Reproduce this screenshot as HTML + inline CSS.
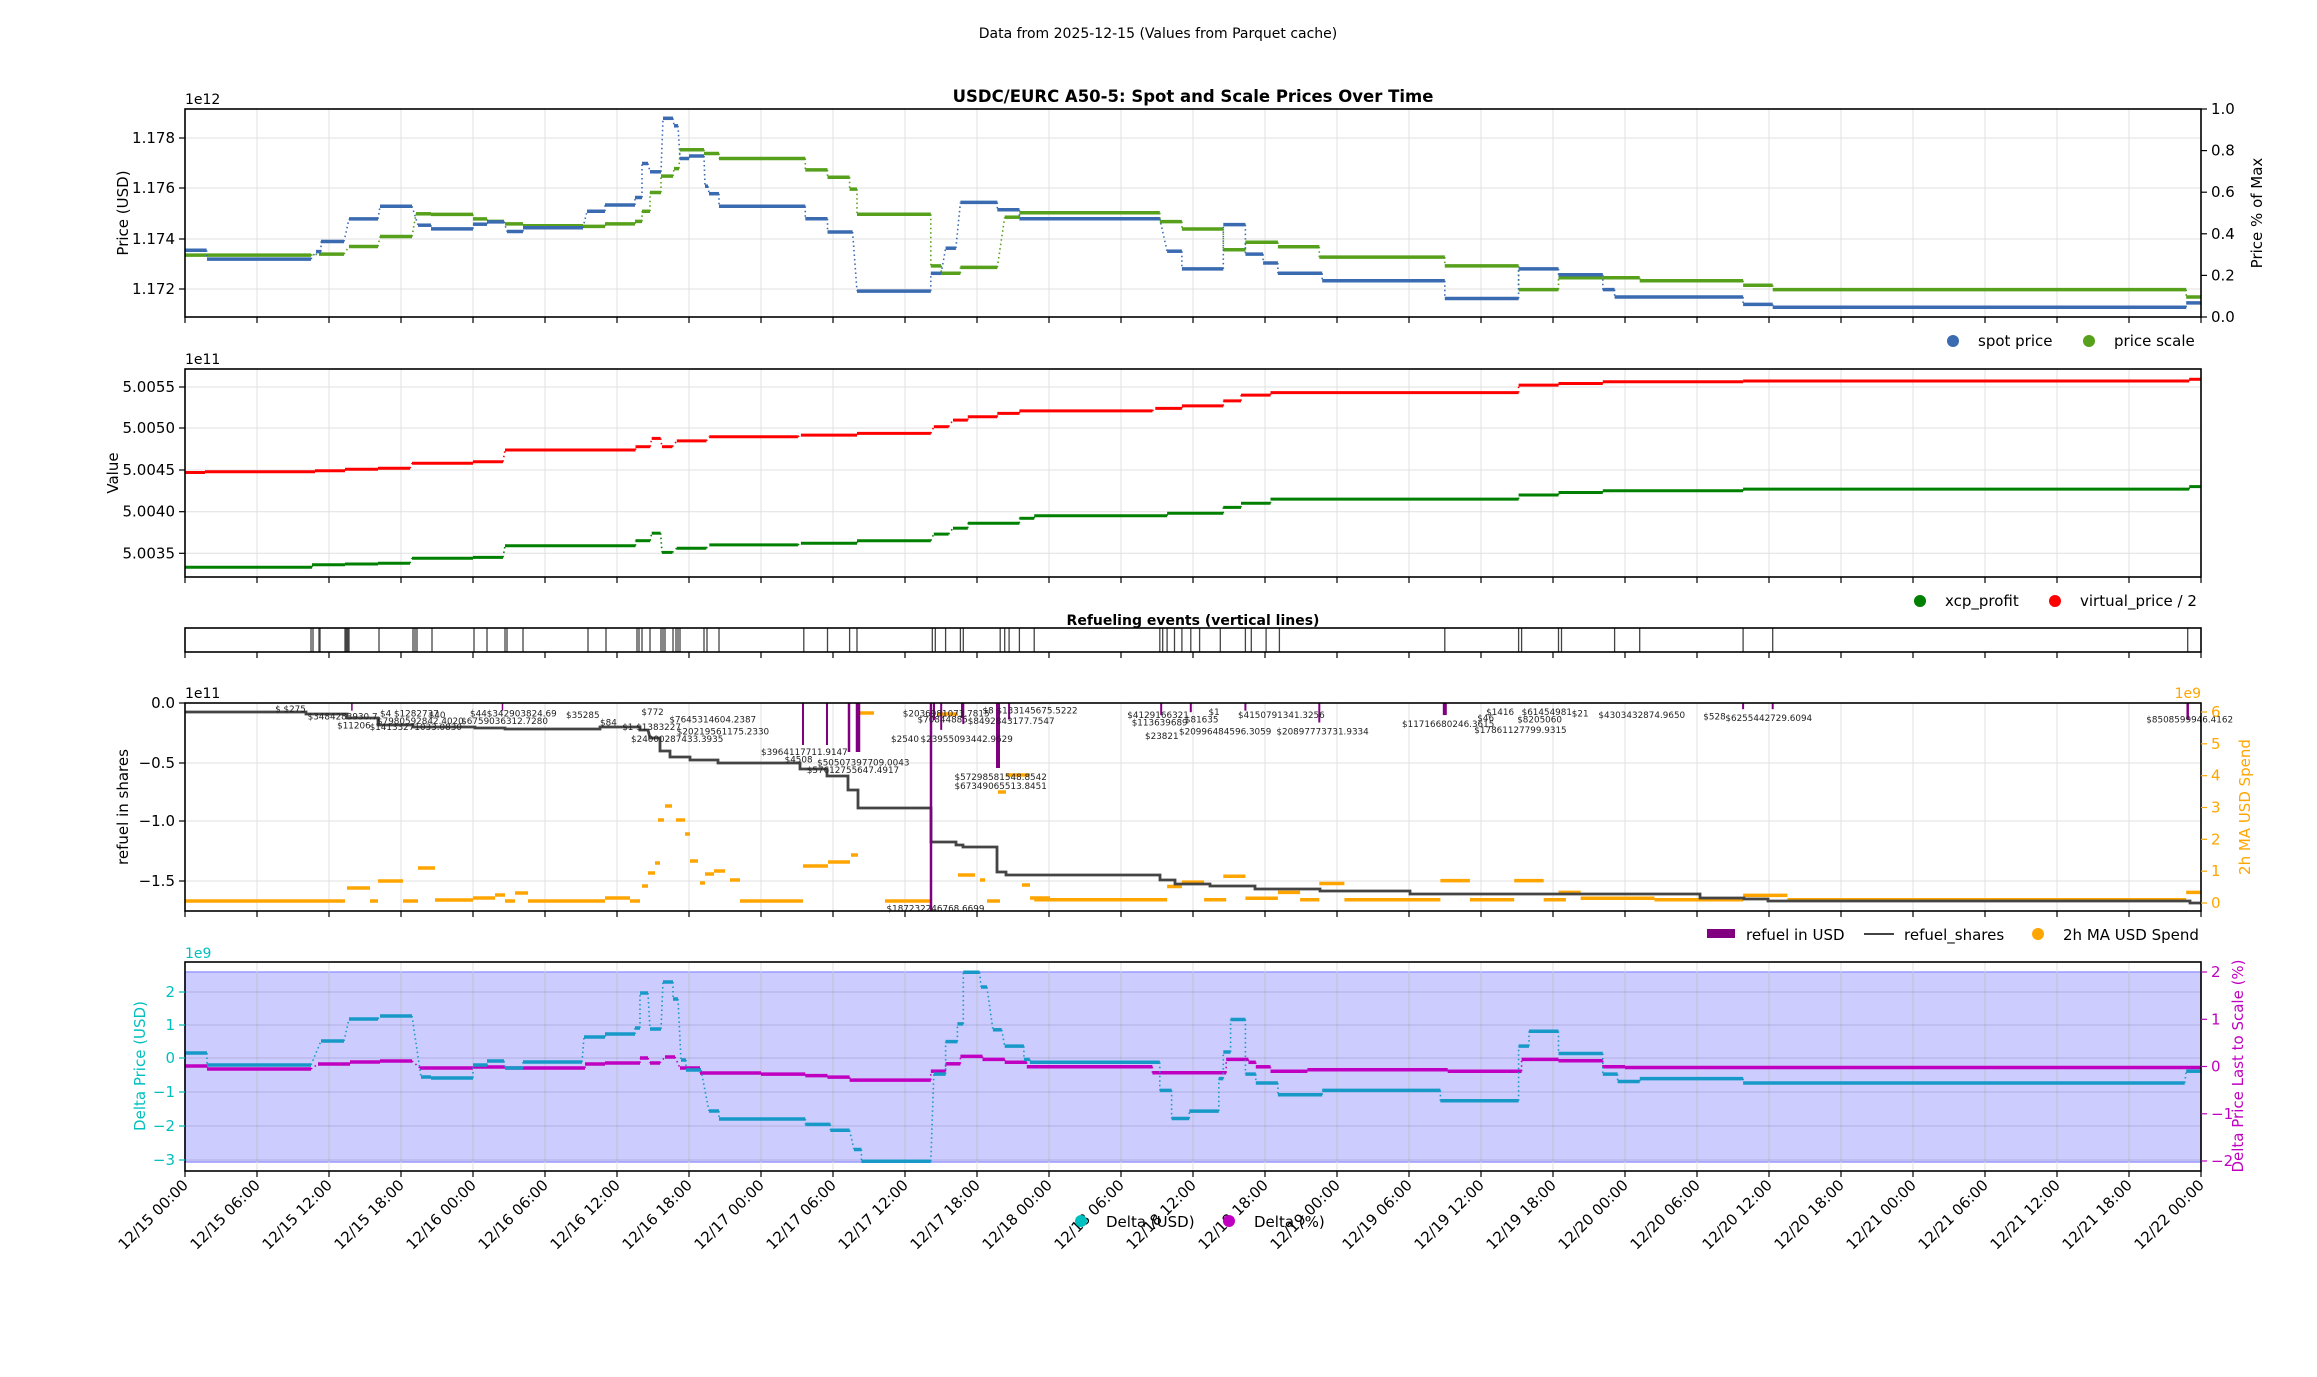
<!DOCTYPE html>
<html><head><meta charset="utf-8">
<style>
html,body{margin:0;padding:0;background:#fff;}
svg{display:block;font-family:"DejaVu Sans","Liberation Sans",sans-serif;}
</style></head>
<body>
<svg id="s" width="2317" height="1377" viewBox="0 0 2317 1377" xmlns="http://www.w3.org/2000/svg">
<rect width="2317" height="1377" fill="#fff"/>
<text x="1158" y="38" font-size="14" text-anchor="middle">Data from 2025-12-15 (Values from Parquet cache)</text>
<text x="1193" y="102" font-size="16.5" font-weight="bold" text-anchor="middle">USDC/EURC A50-5: Spot and Scale Prices Over Time</text>
<text x="1193" y="625" font-size="14" font-weight="bold" text-anchor="middle">Refueling events (vertical lines)</text>
<g id="g"></g>
</svg>
<script>
var L=185,R=2201,out=[];
function DX(x){return 185+(x-125)*1.4769;}
function DY(y){return y*1.4775;}
function T(x){return 185+(x-186)*0.9946;}
function Z(x){return x/1.96;}
function add(s){out.push(s);}
function ln(x1,y1,x2,y2,c,w,extra){add('<line x1="'+x1.toFixed(1)+'" y1="'+y1.toFixed(1)+'" x2="'+x2.toFixed(1)+'" y2="'+y2.toFixed(1)+'" stroke="'+c+'" stroke-width="'+w+'" '+(extra||'')+'/>');}
function tx(x,y,s,sz,c,anc,extra){add('<text x="'+x.toFixed(1)+'" y="'+y.toFixed(1)+'" font-size="'+sz+'" fill="'+(c||'#000')+'" text-anchor="'+(anc||'start')+'" '+(extra||'')+'>'+s+'</text>');}
function steps(segs,c,w){
  for(var i=0;i<segs.length;i++){var s=segs[i];
    ln(s[0],s[2],s[1],s[2],c,w,'stroke-linecap="butt"');
    if(i>0){var p=segs[i-1];ln(p[1],p[2],s[0],s[2],c,1.6,'stroke-dasharray="1.5 3"');}
  }
}
function xgrid(t,b){for(var i=0;i<=28;i++){var x=L+i*72;ln(x,t,x,b,'#e0e0e0',1);}}
function ygrid(t,b,ys){ys.forEach(function(y){ln(L,y,R,y,'#e0e0e0',1);});}
function frame(t,b,right){add('<rect x="'+L+'" y="'+t+'" width="'+(R-L)+'" height="'+(b-t)+'" fill="none" stroke="#000" stroke-width="1.6"/>');
  for(var i=0;i<=28;i++){var x=L+i*72;ln(x,b,x,b+6,'#000',1.2);}}
function lticks(vals,c){vals.forEach(function(v){ln(L-6,v[1],L,v[1],c||'#000',1.2);tx(L-10,v[1]+5,v[0],15,c||'#000','end');});}
function rticks(vals,c){vals.forEach(function(v){ln(R,v[1],R+6,v[1],c||'#000',1.2);tx(R+10,v[1]+5,v[0],15,c||'#000','start');});}
function vlabel(x,y,s,c){tx(x,y,s,15,c||'#000','middle','transform="rotate(-90 '+x+' '+y+')"');}

/* ---------- Panel 1 ---------- */
var P1t=109,P1b=317;
function yP(p){return 239-(p-1.174)*25150;}
xgrid(P1t,P1b);ygrid(P1t,P1b,[138,188,239,289]);
var spot=[[Z(363),Z(405),1.17355],[207,311,1.1732],[316,321,1.1735],[321,344,1.1739],[349,378,1.1748],[380,412,1.1753],[418,431,1.17455],[431,473,1.1744],[473,487,1.17459],[487,504,1.17468],[507,523,1.1743],[523,583,1.17445],[587,605,1.1751],[605,635,1.17535],[635,642,1.17565],[642,648,1.1770],[650,661,1.17667],[663,673,1.1788],[674,678,1.1785],[680,689,1.1772],[689,704,1.1773],[705,708,1.1761],[709,719,1.1758],[719,DX(545),1.1753]];
var spotD=[[545,560,148],[560,577,157],[580,630,197],[630,637,185],[640,647,168],[650,675,137],[675,690,142],[690,785,148],[790,800,170],[800,828,182],[828,843,152],[843,855,172],[855,865,178],[865,895,185],[895,978,190],[978,1028,202],[1028,1055,182],[1055,1085,186],[1085,1093,196],[1093,1180,201],[1180,1200,206],[1200,1480,208],[1480,1490,205]];
spotD.forEach(function(s){spot.push([DX(s[0]),DX(s[1]),null,DY(s[2])]);});
var scale=[[185,311,1.17336],[319,344,1.1734],[349,378,1.1737],[380,412,1.1741],[416,431,1.1750],[431,473,1.17498],[473,487,1.1748],[487,504,1.1747],[505,523,1.1746],[523,583,1.17453],[583,605,1.1745],[605,635,1.1746],[635,642,1.1747],[642,650,1.1751],[650,661,1.17585],[661,673,1.1765],[674,679,1.1768],[680,704,1.17755],[704,719,1.1774],[719,DX(545),1.1772]];
var scaleD=[[545,560,115],[560,575,120],[575,580,128],[580,630,145],[630,637,180],[637,650,185],[650,675,181],[680,690,147],[690,785,144],[785,800,150],[800,828,155],[828,843,169],[843,865,164],[865,893,167],[893,978,174],[978,1028,180],[1028,1055,196],[1055,1085,188],[1085,1110,188],[1110,1180,190],[1180,1200,193],[1200,1480,196],[1480,1490,201]];
scaleD.forEach(function(s){scale.push([DX(s[0]),DX(s[1]),null,DY(s[2])]);});
function fix(a){return a.map(function(s){return [s[0],s[1],s[2]===null?s[3]:yP(s[2])];});}
steps(fix(scale),'#56a01c',3.5);
steps(fix(spot),'#3a6bb0',3.5);
frame(P1t,P1b);
lticks([['1.178',138],['1.176',188],['1.174',239],['1.172',289]]);
rticks([['0.0',317],['0.2',275.4],['0.4',233.8],['0.6',192.2],['0.8',150.6],['1.0',109]]);
tx(L,104,'1e12',14);
vlabel(128,213,'Price (USD)');vlabel(2262,213,'Price % of Max');
add('<circle cx="1953" cy="341" r="6" fill="#3a6bb0"/><circle cx="2089" cy="341" r="6" fill="#56a01c"/>');
tx(1978,346,'spot price',15);tx(2114,346,'price scale',15);

/* ---------- Panel 2 ---------- */
var P2t=369,P2b=577;
function yV(v){return 470-(v-5.0045)*83200;}
xgrid(P2t,P2b);ygrid(P2t,P2b,[387,428,470,511.7,553.3]);
var red=[[185,205,5.00447],[205,315,5.00448],[315,345,5.00449],[345,378,5.00451],[378,410,5.00452],[412,473,5.00458],[473,503,5.00460],[505,DX(430),5.00474]];
var redD=[[430,440,5.00478],[441,447,5.00488],[448,455,5.00478],[458,478,5.00485],[480,540,5.00490],[542,580,5.00492],[580,630,5.00494],[632,642,5.00502],[645,655,5.00510],[655,675,5.00514],[675,690,5.00518],[690,780,5.00521],[782,800,5.00524],[800,828,5.00527],[828,840,5.00533],[840,860,5.00540],[860,1028,5.00543],[1028,1055,5.00552],[1055,1085,5.00554],[1085,1180,5.00556],[1180,1482,5.00557],[1482,1490,5.00559]];
redD.forEach(function(s){red.push([DX(s[0]),DX(s[1]),s[2]]);});
var grn=[[185,312,5.00333],[312,345,5.00336],[345,378,5.00337],[378,410,5.00338],[412,473,5.00344],[473,503,5.00345],[505,DX(430),5.00359]];
var grnD=[[430,440,5.00365],[441,447,5.00374],[448,455,5.00351],[458,478,5.00356],[480,540,5.00360],[542,580,5.00362],[580,630,5.00365],[632,642,5.00373],[645,655,5.00380],[655,690,5.00386],[690,700,5.00392],[700,790,5.00395],[790,828,5.00398],[828,840,5.00405],[840,860,5.00410],[860,1028,5.00415],[1028,1055,5.00420],[1055,1085,5.00423],[1085,1180,5.00425],[1180,1482,5.00427],[1482,1490,5.00430]];
grnD.forEach(function(s){grn.push([DX(s[0]),DX(s[1]),s[2]]);});
function fv(a){return a.map(function(s){return [s[0],s[1],yV(s[2])];});}
steps(fv(red),'#ff0000',3);steps(fv(grn),'#008000',3);
frame(P2t,P2b);
lticks([['5.0055',387],['5.0050',428],['5.0045',470],['5.0040',511.7],['5.0035',553.3]]);
tx(L,364,'1e11',14);vlabel(118,473,'Value');
add('<circle cx="1920" cy="601" r="6" fill="#008000"/><circle cx="2055" cy="601" r="6" fill="#ff0000"/>');
tx(1945,606,'xcp_profit',15);tx(2080,606,'virtual_price / 2',15);

/* ---------- Refuel events ---------- */
var Rt=628,Rb=652;
var ev=[311,313,319,320,345,346,347,348,349,379,413,415,417,432,474,487,505,507,523,588,606,637,639,642,650,661,663,665,673,676,678,680,704,707,719];
[544,560,575,580,631,633,640,650,652,677,680,683,690,700,785,787,790,795,800,806,812,826,843,847,857,866,978,1028,1030,1055,1057,1093,1110,1180,1200,1481].forEach(function(x){ev.push(DX(x));});
ev.forEach(function(x){ln(x,Rt,x,Rb,'#444',1.3);});
add('<rect x="'+L+'" y="'+Rt+'" width="'+(R-L)+'" height="'+(Rb-Rt)+'" fill="none" stroke="#000" stroke-width="1.6"/>');
for(var i=0;i<=28;i++){var x=L+i*72;ln(x,Rb,x,Rb+6,'#000',1.2);}

/* ---------- Panel 4 ---------- */
var P4t=703,P4b=911;
xgrid(P4t,P4b);ygrid(P4t,P4b,[703,763,821,881]);
var ora=[[185,345,901],[347,370,888],[370,378,901],[378,403,881],[403,418,901],[418,435,868],[435,473,900],[473,495,898],[495,505,895],[505,515,901],[515,528,893],[528,605,901],[605,630,898],[630,640,901],[642,648,886],[648,655,873],[655,660,863],[658,664,820],[665,672,806],[676,685,820],[685,690,834],[690,698,861],[700,705,883],[705,714,874],[714,725,871],[730,740,880],[740,803,901],[803,828,866],[828,850,862],[851,858,855],[858,874,713],[885,931,901],[937,958,714],[958,975,875],[980,985,880],[987,1000,901],[998,1006,792],[1006,1030,775],[1022,1030,885],[1030,1050,898]];
var oraD=[[700,790,609],[790,800,600],[800,815,597],[815,830,609],[828,843,593],[843,865,608],[865,880,604],[880,893,609],[893,910,598],[910,975,609],[975,995,596],[995,1025,609],[1025,1045,596],[1045,1060,609],[1055,1070,604],[1070,1120,608],[1120,1180,609],[1180,1210,606],[1210,1480,609],[1480,1490,604]];
oraD.forEach(function(s){ora.push([DX(s[0]),DX(s[1]),DY(s[2])]);});
ora.sort(function(a,b){return a[0]-b[0];});
ora.forEach(function(s){ln(s[0],s[2],s[1],s[2],'#ffa500',3.5);});
var blk=[[185,306,712],[306,347,714],[347,378,718],[378,413,725],[413,475,727],[475,505,728],[505,600,729],[600,640,727],[640,648,730],[650,660,738],[660,670,751],[670,690,757],[690,718,760],[718,800,763],[800,827,769],[827,848,776],[848,858,790],[858,931,808],[931,956,842],[956,963,845],[963,997,847],[997,1006,872],[1006,1160,875],[1160,1175,880],[1175,1210,884],[1210,1255,886],[1255,1320,889],[1320,1410,891],[1410,1700,894],[1700,1744,898],[1744,1768,899],[1768,2190,901],[2190,2201,903]];
var bp='M'+blk[0][0]+' '+blk[0][2];
blk.forEach(function(s){bp+=' L'+s[0].toFixed(1)+' '+s[2]+' L'+s[1].toFixed(1)+' '+s[2];});
add('<path d="'+bp+'" fill="none" stroke="#444" stroke-width="2.8"/>');
var pur=[[803,745,2],[827,745,2],[849,752,2.5],[858,752,4.5],[931,911,2.5],[934,720,2],[962,718,2],[DX(637),DY(494),2],[DX(652),DY(490),2],[998,768,4],[DX(683),DY(487),2],[DX(786),DY(484),2],[DX(806),DY(482),2],[DX(843),DY(481),2],[DX(893),DY(489),2],[DX(978),DY(484),4],[DX(1180),DY(480),2],[DX(1200),DY(480),2],[DX(1481),DY(487),2.5],[DX(238),DY(481),1.5],[DX(340),DY(481),1.5]];
pur.forEach(function(p){ln(p[0],P4t,p[0],p[1],'#800080',p[2]);});
var labs=[['$3484283930.7',208,485],['$11206',228,491],['$14133271033.0830',250,492],['$4 $1282737',257,483],['$7980592842.4020',255,488],['$40',290,484],['$44$342903824.69',318,483],['$6759036312.7280',312,488],['$35285',383,484],['$84',406,489],['$1 $1383227',421,492],['$772',434,482],['$7645314604.2387',453,487],['$20219561175.2330',458,495],['$24000287433.3935',427,500],['$3964117711.9147',515,509],['$4508',531,514],['$50507397709.0043',553,516],['$57612755647.4917',546,521],['$2036981073.7815',611,483],['$70844885',621,487],['$2540',603,500],['$23955093442.9629',623,500],['$8 $133145675.5222',665,481],['$8492843177.7547',655,488],['$57298581548.8542',646,526],['$67349065513.8451',646,532],['$187232246768.6699',600,615],['$113639689',766,489],['$4129166321',763,484],['$23821',775,498],['$1',818,482],['$81635',802,487],['$4150791341.3256',838,484],['$20996484596.3059',798,495],['$20897773731.9334',864,495],['$11716680246.3615',949,490],['$1416',1006,482],['$46',1000,486],['$61454981',1030,482],['$8205060',1027,487],['$21',1064,483],['$4303432874.9650',1082,484],['$17861127799.9315',998,494],['$528',1153,485],['$6255442729.6094',1168,486],['$8508599946.4162',1453,487],['$ $275',186,480]];
labs.forEach(function(l){tx(DX(l[1]),DY(l[2])+3,l[0],8.8,'#222');});
frame(P4t,P4b);
lticks([['0.0',703],['\u22120.5',763],['\u22121.0',821],['\u22121.5',881]]);
rticks([['0',903],['1',871.2],['2',839.3],['3',807.5],['4',775.7],['5',743.8],['6',712]],'#ffa500');
tx(L,698,'1e11',14);tx(R,698,'1e9',14,'#ffa500','end');
vlabel(128,807,'refuel in shares');vlabel(2250,807,'2h MA USD Spend','#ffa500');
add('<rect x="1707" y="929" width="28" height="9" fill="#800080"/>');tx(1746,940,'refuel in USD',15);
ln(1864,934,1894,934,'#444',2);tx(1904,940,'refuel_shares',15);
add('<circle cx="2038" cy="934" r="6" fill="#ffa500"/>');tx(2063,940,'2h MA USD Spend',15);

/* ---------- Panel 5 ---------- */
var P5t=962,P5b=1171;
add('<rect x="'+L+'" y="972" width="'+(R-L)+'" height="190" fill="#ccccff" stroke="#9999ff" stroke-width="1.5"/>');
xgrid(P5t,P5b);
[992,1025,1058,1092,1126,1160].forEach(function(y){ln(L,y,R,y,'rgba(120,120,170,0.35)',1);});
for(var i=0;i<=28;i++){var x=L+i*72;ln(x,972,x,1162,'rgba(120,120,170,0.3)',1);}
var mag=[[185,207,1066],[207,311,1069],[318,350,1064],[350,380,1062],[380,412,1061],[420,473,1068],[473,505,1067],[505,585,1068],[585,605,1064],[605,640,1063],[640,648,1058],[650,660,1063],[665,675,1057],[680,700,1068],[700,DX(515),1073]];
var magD=[[515,545,727],[545,560,728],[560,575,729],[575,630,731],[630,640,725],[640,650,720],[650,665,715],[665,680,717],[680,695,719],[695,780,722],[780,830,726],[830,845,717],[845,850,719],[850,860,722],[860,885,725],[885,980,724],[980,1030,725],[1030,1055,717],[1055,1085,718],[1085,1100,722],[1100,1490,722.5]];
magD.forEach(function(s){mag.push([DX(s[0]),DX(s[1]),DY(s[2])]);});
steps(mag,'#c000c0',3.5);
var cy=[[185,207,1053],[207,311,1065],[321,344,1041],[349,378,1019],[380,412,1016],[421,431,1077],[431,473,1078],[473,487,1065],[487,504,1061],[505,523,1068],[523,582,1062],[584,605,1037],[605,635,1034],[635,640,1028],[640,648,993],[650,661,1029],[663,673,982],[673,678,999],[681,686,1060],[686,701,1070],[709,719,1111],[719,DX(545),1119]];
var cyD=[[545,562,761],[562,575,765],[578,583,778],[583,630,786],[632,640,727],[640,648,705],[648,652,693],[652,663,658],[664,668,668],[672,678,697],[680,693,708],[693,697,717],[697,785,719],[785,793,738],[793,805,757],[805,825,752],[825,828,730],[828,833,712],[833,843,690],[843,850,727],[850,865,733],[865,895,741],[895,975,738],[975,1028,745],[1028,1035,708],[1035,1055,698],[1055,1085,713],[1085,1095,727],[1095,1110,732],[1110,1180,730],[1180,1479,733],[1480,1490,725]];
cyD.forEach(function(s){cy.push([DX(s[0]),DX(s[1]),DY(s[2])]);});
steps(cy,'#1799c8',3.5);
add('<rect x="'+L+'" y="'+P5t+'" width="'+(R-L)+'" height="'+(P5b-P5t)+'" fill="none" stroke="#000" stroke-width="1.6"/>');
for(var i=0;i<=28;i++){var x=L+i*72;ln(x,P5b,x,P5b+6,'#000',1.2);}
lticks([['2',992],['1',1025],['0',1058],['\u22121',1092],['\u22122',1126],['\u22123',1160]],'#00bfbf');
rticks([['2',972],['1',1019.3],['0',1066.5],['\u22121',1113.8],['\u22122',1161]],'#c000c0');
tx(L,958,'1e9',14,'#00bfbf');
vlabel(145,1066,'Delta Price (USD)','#00bfbf');vlabel(2243,1066,'Delta Price Last to Scale (%)','#c000c0');
var days=['15','16','17','18','19','20','21'],hrs=['00:00','06:00','12:00','18:00'];
for(var i=0;i<=28;i++){var x=L+i*72;var lab=i==28?'12/22 00:00':'12/'+days[Math.floor(i/4)]+' '+hrs[i%4];
  var yy=1186;tx(x+4,yy,lab,15,'#000','end','transform="rotate(-45 '+(x+4)+' '+yy+')"');}
add('<circle cx="1081" cy="1221" r="6" fill="#00bfbf"/><circle cx="1229" cy="1221" r="6" fill="#c000c0"/>');
tx(1106,1227,'Delta (USD)',15);tx(1254,1227,'Delta (%)',15);

document.getElementById('g').innerHTML=out.join('');
</script>
</body></html>
